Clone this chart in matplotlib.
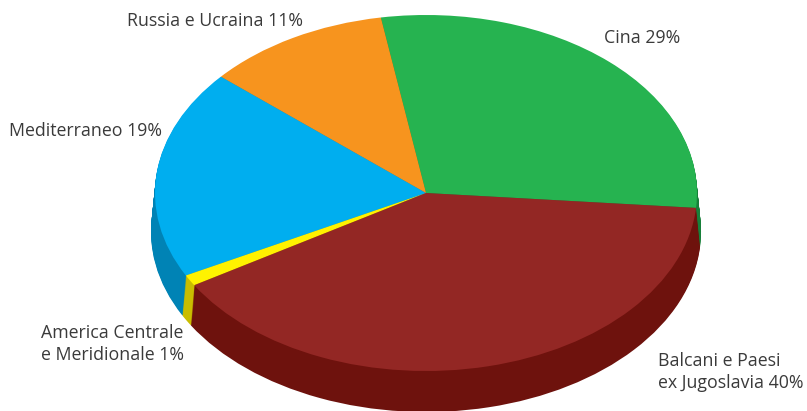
import matplotlib
matplotlib.use("Agg")
import matplotlib.pyplot as plt
import matplotlib.transforms as mtrans

labels = ["Cina 29%", "Russia e Ucraina 11%", "Mediterraneo 19%",
          "America Centrale\ne Meridionale 1%", "Balcani e Paesi\nex Jugoslavia 40%"]
values = [29, 11, 19, 1, 40]
top_colors = ["#26b350", "#f7941e", "#00aeef", "#fff200", "#932724"]
side_colors = ["#17803a", "#b86e14", "#0083b5", "#c9bd00", "#6e120d"]

W, H = 807, 411
cx, cy = 426, 193
rx, ry = 271, 178
depth = 39

plt.rcParams['font.family'] = ['Open Sans', 'DejaVu Sans']

fig = plt.figure(figsize=(W / 100, H / 100), dpi=100)
ax = fig.add_axes([0, 0, 1, 1])


def draw_layer(d, colors):
    # pie() draws circles, stretch them into the ellipse
    # the lower layers get a little wider, like in the reference
    f = d / depth
    wedges, _ = ax.pie(values, colors=colors, startangle=-4.8,
                       center=(cx, H - cy - d), radius=1, wedgeprops={'linewidth': 0})
    stretch = mtrans.Affine2D().translate(-cx, -(H - cy - d)).scale(rx + 4 * f, ry + 2 * f).translate(cx, H - cy - d)
    for w in wedges:
        w.set_transform(stretch + ax.transData)


for d in range(depth, 0, -1):
    draw_layer(d, side_colors)
draw_layer(0, top_colors)

ax.set_aspect('auto')
ax.set_xlim(0, W)
ax.set_ylim(0, H)
ax.axis('off')

txt = {'fontsize': 12.8, 'color': "#3a3a3a", 'va': 'center', 'ha': 'left', 'linespacing': 1.3}
ax.text(604, H - 38, labels[0], **txt)
ax.text(127, H - 21, labels[1], **txt)
ax.text(9, H - 131, labels[2], **txt)
ax.text(41, H - 344, labels[3], **txt)
ax.text(658, H - 372, labels[4], **txt)

fig.savefig("out.png", dpi=100)
